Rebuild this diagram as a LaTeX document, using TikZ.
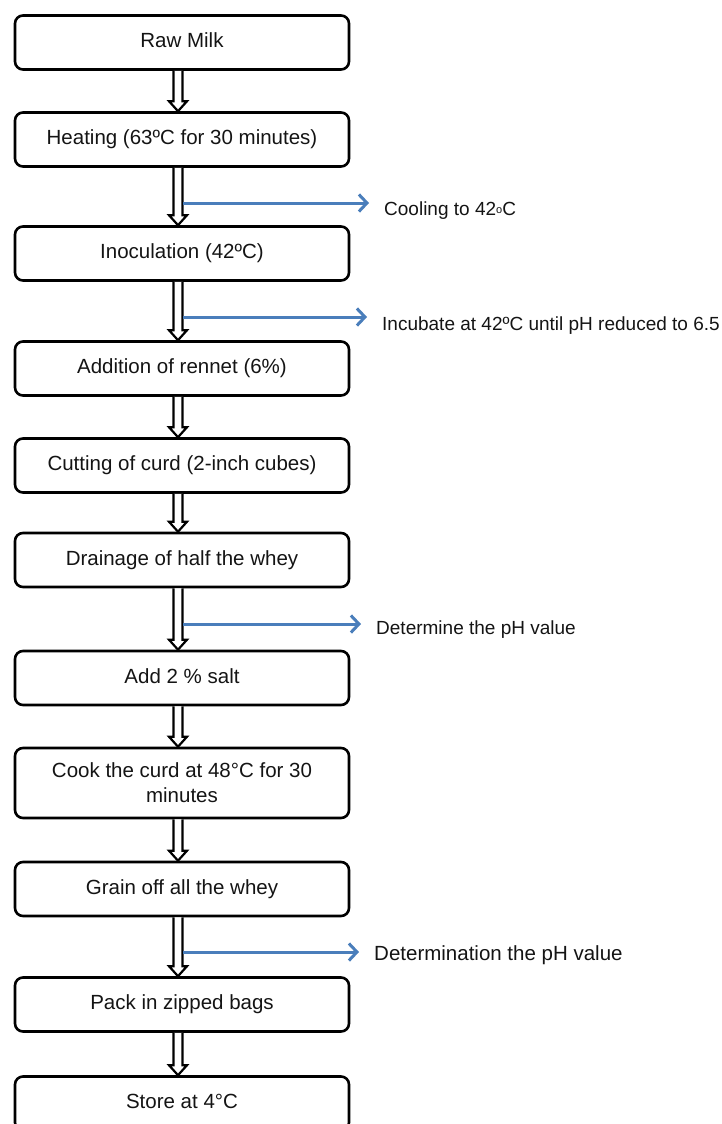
\documentclass[tikz,border=0pt]{standalone}
\usepackage{fontspec}
\setmainfont{Liberation Sans}
\usetikzlibrary{arrows.meta}
\definecolor{sideblue}{HTML}{4A7EBB}
\definecolor{inkc}{HTML}{141414}
\newcommand\flowdown[2]{%
  \draw[dblarrow] ([xshift=-8.5pt]#1.south) -- ([xshift=-8.5pt,yshift=10pt]#2.north)
    -- ([xshift=-13pt,yshift=10pt]#2.north) -- ([xshift=-4pt]#2.north)
    -- ([xshift=5pt,yshift=10pt]#2.north) -- ([xshift=0.5pt,yshift=10pt]#2.north)
    -- ([xshift=0.5pt]#1.south);}
\begin{document}
\begin{tikzpicture}[x=1pt,y=-1pt,
  boxbase/.style={draw=black, line width=2.6pt, rounded corners=8pt,
    minimum width=334pt, minimum height=54pt, inner sep=2pt, align=center,
    text=inkc, font=\fontsize{20.5}{25}\selectfont},
  box/.style={boxbase, text height=15pt, text depth=4.5pt},
  dblarrow/.style={draw=black, line width=2.2pt, fill=white, line join=miter},
  sidearrow/.style={draw=sideblue, line width=3pt,
    -{Straight Barb[length=8pt,width=17pt]}, shorten >=15pt},
  sidelabel/.style={anchor=base west, inner sep=0pt, text=inkc,
    font=\fontsize{19}{22}\selectfont}]
\useasboundingbox (0,0) rectangle (722,1124);
\clip (0,0) rectangle (722,1124);

\node[box] (raw)   at (182,42.5)  {Raw Milk};
\node[box] (heat)  at (182,139.5) {Heating (63ºC for 30 minutes)};
\node[box] (inoc)  at (182,253.5) {Inoculation (42ºC)};
\node[box] (renn)  at (182,368.5) {Addition of rennet (6\%)};
\node[box] (cut)   at (182,465.5) {Cutting of curd (2-inch cubes)};
\node[box] (drain) at (182,560)   {Drainage of half the whey};
\node[box] (salt)  at (182,678)   {Add 2 \% salt};
\node[boxbase, minimum height=70pt] (cook) at (182,783) {Cook the curd at 48°C for 30\\minutes};
\node[box] (grain) at (182,889)   {Grain off all the whey};
\node[box] (pack)  at (182,1004.5){Pack in zipped bags};
\node[box] (store) at (182,1103.5){Store at 4°C};

\flowdown{raw}{heat}
\flowdown{heat}{inoc}
\flowdown{inoc}{renn}
\flowdown{renn}{cut}
\flowdown{cut}{drain}
\flowdown{drain}{salt}
\flowdown{salt}{cook}
\flowdown{cook}{grain}
\flowdown{grain}{pack}
\flowdown{pack}{store}

\node[sidelabel] (lab1) at (384,215) {Cooling to 42\raisebox{0.1ex}{\fontsize{11}{11}\selectfont o}C};
\node[sidelabel] (lab2) at (382,330) {Incubate at 42ºC until pH reduced to 6.5};
\node[sidelabel] (lab3) at (376,634) {Determine the pH value};
\node[sidelabel, font=\fontsize{20.5}{24}\selectfont] (lab4) at (374,960) {Determination the pH value};

\coordinate (s1) at (183,203);
\coordinate (s2) at (183,317);
\coordinate (s3) at (183,624);
\coordinate (s4) at (183,952);
\draw[sidearrow] (s1) -- (s1 -| lab1.west);
\draw[sidearrow] (s2) -- (s2 -| lab2.west);
\draw[sidearrow] (s3) -- (s3 -| lab3.west);
\draw[sidearrow] (s4) -- (s4 -| lab4.west);
\end{tikzpicture}
\end{document}
